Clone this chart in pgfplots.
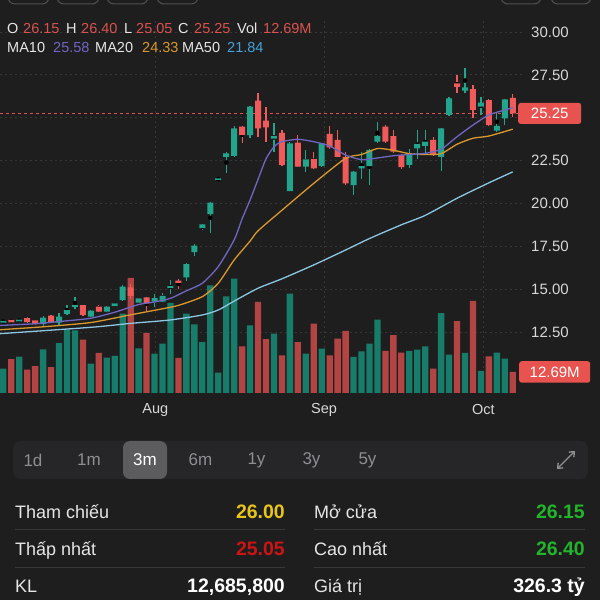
\documentclass[border=0pt]{standalone}
\usepackage{pgfplots}
\pgfplotsset{compat=1.18}
\usepackage{pgfplotstable}
\usepackage{fontspec}
\setmainfont{Liberation Sans}
\usetikzlibrary{arrows.meta}
\definecolor{bg}{HTML}{1E1E1E}
\definecolor{gridc}{HTML}{363636}
\definecolor{tickc}{HTML}{D8D8D8}
\definecolor{cup}{HTML}{22A58C}
\definecolor{cdn}{HTML}{F05A5A}
\definecolor{vup}{HTML}{187C6A}
\definecolor{vdn}{HTML}{B24444}
\definecolor{maten}{HTML}{6F66C4}
\definecolor{matwenty}{HTML}{D9982E}
\definecolor{mafifty}{HTML}{8CC6E2}
\definecolor{mafiftyv}{HTML}{45A2DC}
\definecolor{hdrval}{HTML}{D9534F}
\definecolor{pricered}{HTML}{E8524F}
\definecolor{dashred}{HTML}{E45050}
\definecolor{tabbg}{HTML}{262628}
\definecolor{pillc}{HTML}{5C5C5E}
\definecolor{tabtxt}{HTML}{8E8E93}
\definecolor{lbl}{HTML}{E6E6E6}
\definecolor{sep}{HTML}{38383A}
\definecolor{yel}{HTML}{E8C51A}
\definecolor{grn}{HTML}{22B52C}
\definecolor{dred}{HTML}{CC1414}
\definecolor{btn}{HTML}{505052}

\pgfplotstableread{
i o h l c v
0 13.05 13.22 13.00 13.15 14.7
2 13.12 13.30 13.05 13.22 22.0
5 12.95 13.44 12.79 13.33 26.4
7 13.04 13.59 12.85 13.39 30.2
8 13.55 14.07 13.49 13.78 38.3
9 13.96 14.53 13.85 14.07 37.9
11 13.39 13.80 13.35 13.74 17.8
13 13.68 14.00 13.65 13.97 21.4
14 14.01 14.22 13.98 14.17 22.4
15 14.36 15.25 14.30 15.14 48.0
17 14.21 14.50 14.18 14.46 27.0
19 14.27 14.71 13.98 14.48 23.8
20 14.27 14.75 14.25 14.60 29.9
21 15.05 15.53 14.71 15.18 54.4
23 15.69 16.50 15.50 16.45 48.0
24 17.15 17.65 16.95 17.53 41.5
25 18.55 18.80 18.45 18.78 30.8
26 19.38 20.06 18.26 20.04 65.1
27 21.37 21.48 21.35 21.46 12.3
28 22.72 23.00 21.77 22.92 58.4
29 22.77 24.50 22.70 24.38 69.1
31 23.99 25.70 23.80 25.64 40.9
34 23.78 24.67 23.02 23.93 35.9
36 20.72 23.60 20.70 23.50 60.1
38 22.14 23.12 21.81 22.57 23.8
40 22.18 23.55 22.15 23.50 26.8
44 21.07 21.90 20.49 21.85 21.8
45 22.05 23.02 21.42 22.18 25.2
46 22.18 23.20 21.07 23.12 29.9
47 23.60 24.73 23.50 23.93 44.4
51 22.24 23.20 22.05 22.82 25.4
52 23.21 24.26 22.60 23.47 26.2
53 23.35 24.26 22.90 23.60 28.2
55 22.72 24.40 21.90 24.38 48.3
56 25.16 26.20 25.10 26.13 23.2
58 26.58 27.88 26.46 26.77 24.2
60 25.64 26.23 25.16 25.88 13.3
62 24.24 25.35 24.18 24.52 24.4
63 24.96 26.10 24.60 26.07 20.8
}\up

\pgfplotstableread{
i o h l c v
1 13.20 13.25 13.02 13.06 20.4
3 13.30 13.35 13.05 13.08 14.1
4 13.18 13.20 12.93 12.96 16.3
6 13.45 13.48 13.05 13.08 15.7
10 14.07 14.10 13.45 13.49 32.3
12 13.97 14.10 13.65 13.68 24.2
16 15.10 15.30 14.40 14.60 69.5
18 14.52 14.55 13.74 14.17 36.3
22 15.49 15.60 15.00 15.37 21.2
30 24.48 24.50 23.50 23.99 28.2
32 25.99 26.42 23.89 24.38 55.0
33 24.83 25.64 23.60 24.44 32.6
35 24.12 24.30 22.20 22.24 22.8
37 23.54 24.00 22.10 22.14 30.8
39 22.59 23.00 22.00 22.05 41.9
41 24.05 24.50 23.20 23.27 22.8
42 23.70 24.30 22.70 22.72 32.9
43 22.72 23.00 21.10 21.17 37.5
48 24.48 24.55 23.55 23.60 25.4
49 23.93 24.30 22.95 23.02 34.9
50 22.82 22.90 22.00 22.11 24.4
54 23.70 23.90 22.75 22.82 14.7
57 27.00 27.49 26.42 26.80 43.5
59 26.66 26.90 24.96 25.45 55.6
61 26.03 26.10 24.50 24.57 22.2
64 26.15 26.40 25.05 25.25 12.69
}\down

\pgfplotsset{
  chartbox/.style={at={(0pt,207pt)}, anchor=south west, scale only axis,
    width=522pt, height=373pt, xmin=-0.415, xmax=65.16},
  pricey/.style={ymin=8.938, ymax=30.70},
}

\begin{document}
\begin{tikzpicture}[x=1pt,y=1pt]
\fill[bg] (0,0) rectangle (600,600);
\useasboundingbox (0,0) rectangle (600,600);

% partial buttons at the top edge
\foreach \a/\b in {8/49, 57/99, 107/148, 157/198, 501/541, 551/591}{
  \draw[btn, line width=1pt, rounded corners=7pt] (\a,596) rectangle (\b,630);
}

% grid and price labels
\begin{axis}[chartbox, pricey,
  axis line style={draw=none}, major tick length=0pt,
  xtick={19.1,40.3,60.3}, xticklabels={Aug,Sep,Oct},
  ytick={12.5,15,17.5,20,22.5,25,27.5,30},
  yticklabels={12.50,15.00,17.50,20.00,22.50,,27.50,30.00},
  yticklabel pos=right,
  grid=major, grid style={gridc, line width=0.7pt, dash pattern=on 2pt off 3pt},
  yticklabel style={font=\fontsize{15}{18}\selectfont, text=tickc,
    anchor=west, inner sep=0pt, xshift=9pt},
  xticklabel style={font=\fontsize{14.5}{17}\selectfont, text=tickc, anchor=center,
    inner sep=0pt, yshift=-17pt},
]
\addplot[draw=none] coordinates {(0,20)};
\end{axis}

% volume
\begin{axis}[chartbox, ymin=0, ymax=225.4, hide axis, clip=false]
\addplot[ybar, bar width=6.3pt, bar shift=0pt, fill=vup, draw=none] table[x=i,y=v] {\up};
\addplot[ybar, bar width=6.3pt, bar shift=0pt, fill=vdn, draw=none] table[x=i,y=v] {\down};
\node[fill=pricered, text=white, rounded corners=2.5pt, anchor=west, inner sep=0pt,
  minimum width=71pt, minimum height=21.5pt, font=\fontsize{15}{18}\selectfont,
  xshift=-3pt] at (axis cs:65.16,12.69) {12.69M};
\end{axis}

% wicks and current price line
\begin{axis}[chartbox, pricey, hide axis]
\addplot[dashred, line width=1.4pt, dash pattern=on 3pt off 3pt]
  coordinates {(-0.415,25.25) (64.8,25.25)};
\addplot[only marks, mark=none, error bars/.cd, y dir=both, y explicit, error mark=none,
  error bar style={line width=1.2pt, color=cup}]
  table[x=i, y expr={(\thisrow{h}+\thisrow{l})/2}, y error expr={(\thisrow{h}-\thisrow{l})/2}] {\up};
\addplot[only marks, mark=none, error bars/.cd, y dir=both, y explicit, error mark=none,
  error bar style={line width=1.2pt, color=cdn}]
  table[x=i, y expr={(\thisrow{h}+\thisrow{l})/2}, y error expr={(\thisrow{h}-\thisrow{l})/2}] {\down};
\end{axis}

% rising bodies
\begin{axis}[chartbox, pricey, hide axis, ybar stacked, bar width=6pt]
\addplot[fill=none, draw=none] table[x=i, y=o] {\up};
\addplot[fill=cup, draw=none] table[x=i, y expr={max(\thisrow{c}-\thisrow{o},0.07)}] {\up};
\end{axis}

% falling bodies
\begin{axis}[chartbox, pricey, hide axis, ybar stacked, bar width=6pt]
\addplot[fill=none, draw=none] table[x=i, y=c] {\down};
\addplot[fill=cdn, draw=none] table[x=i, y expr={max(\thisrow{o}-\thisrow{c},0.07)}] {\down};
\end{axis}

% moving averages
\begin{axis}[chartbox, pricey, hide axis, clip=false]
\addplot[mafifty, line width=1.3pt, smooth, tension=0.4] coordinates {
(-0.4,12.40) (11,12.77) (16,13.00) (21,13.20) (25,13.49) (27,13.78) (29,14.30)
(32,15.05) (35,15.60) (39,16.41) (43,17.28) (46,17.95) (50,18.75) (53,19.30)
(57,20.30) (61,21.20) (64,21.84)};
\addplot[matwenty, line width=1.3pt, smooth, tension=0.4] coordinates {
(-0.4,12.63) (5,12.80) (11,13.05) (16,13.50) (20,13.85) (22,14.05) (25,14.56)
(27,15.34) (29,16.70) (31,17.80) (32,18.40) (35,19.60) (39,21.17) (43,22.63)
(45,22.85) (47,23.20) (49,23.10) (51,22.90) (53,22.85) (55,22.90) (57,23.45)
(59,23.80) (61,23.93) (64,24.33)};
\addplot[maten, line width=1.3pt, smooth, tension=0.4] coordinates {
(-0.4,12.88) (4,12.98) (8,13.15) (11,13.30) (14,13.65) (17,14.10) (19,14.25)
(21,14.46) (23,14.90) (25,15.34) (27,16.31) (29,17.87) (30,19.10) (31,20.20)
(32,21.40) (33,22.60) (34,23.30) (35,23.60) (37,23.74) (39,23.60) (41,23.35)
(43,22.82) (45,22.55) (47,22.65) (49,22.78) (51,22.85) (53,22.92) (55,23.16)
(57,23.89) (59,24.57) (61,25.16) (63,25.45) (64,25.58)};
\node[fill=pricered, text=white, rounded corners=2.5pt, anchor=west, inner sep=0pt,
  minimum width=63pt, minimum height=21pt, font=\fontsize{15}{18}\selectfont,
  xshift=-4pt] at (axis cs:65.16,25.25) {25.25};
\end{axis}

% header
\begin{scope}[every node/.style={anchor=base west, inner sep=0pt, font=\fontsize{14.5}{17}\selectfont}]
\node[text=lbl] at (7,566.5) {O};
\node[text=hdrval] at (23,566.5) {26.15};
\node[text=lbl] at (66,566.5) {H};
\node[text=hdrval] at (81,566.5) {26.40};
\node[text=lbl] at (124,566.5) {L};
\node[text=hdrval] at (136,566.5) {25.05};
\node[text=lbl] at (178,566.5) {C};
\node[text=hdrval] at (194,566.5) {25.25};
\node[text=lbl] at (237,566.5) {Vol};
\node[text=hdrval] at (263,566.5) {12.69M};
\node[text=lbl] at (7,547.5) {MA10};
\node[text=maten] at (53,547.5) {25.58};
\node[text=lbl] at (95,547.5) {MA20};
\node[text=matwenty] at (142,547.5) {24.33};
\node[text=lbl] at (182,547.5) {MA50};
\node[text=mafiftyv] at (227,547.5) {21.84};
\end{scope}

% period tabs
\fill[tabbg, rounded corners=8pt] (13,121) rectangle (588,159);
\fill[pillc, rounded corners=7pt] (123,121) rectangle (167,159);
\begin{scope}[every node/.style={anchor=center, inner sep=0pt, font=\fontsize{17}{20}\selectfont, text=tabtxt}]
\node at (33,140) {1d};
\node at (89,140) {1m};
\node[text=white] at (145,140) {3m};
\node at (200.5,140) {6m};
\node at (256.5,140) {1y};
\node at (311.5,140) {3y};
\node at (367.5,140) {5y};
\end{scope}
\draw[tabtxt, line width=1.4pt, {Straight Barb[length=4pt,width=7pt]}-{Straight Barb[length=4pt,width=7pt]}]
  (557,131) -- (575,149);

% stats
\draw[sep, line width=0.8pt] (15,70.5) -- (285,70.5) (314,70.5) -- (585,70.5);
\draw[sep, line width=0.8pt] (15,33) -- (285,33) (314,33) -- (585,33);
\begin{scope}[every node/.style={inner sep=0pt, font=\fontsize{18}{21}\selectfont, text=lbl}]
\node[anchor=base west] at (15,81.5) {Tham chiếu};
\node[anchor=base west] at (15,44.5) {Thấp nhất};
\node[anchor=base west] at (15,8) {KL};
\node[anchor=base west] at (314,81.5) {Mở cửa};
\node[anchor=base west] at (314,44.5) {Cao nhất};
\node[anchor=base west] at (314,8) {Giá trị};
\end{scope}
\begin{scope}[every node/.style={inner sep=0pt, anchor=base east, font=\bfseries\fontsize{19.5}{22}\selectfont}]
\node[text=yel] at (285,81.5) {26.00};
\node[text=dred] at (285,44.5) {25.05};
\node[text=white] at (285,8) {12,685,800};
\node[text=grn] at (585,81.5) {26.15};
\node[text=grn] at (585,44.5) {26.40};
\node[text=white] at (585,8) {326.3 tỷ};
\end{scope}
\end{tikzpicture}
\end{document}
